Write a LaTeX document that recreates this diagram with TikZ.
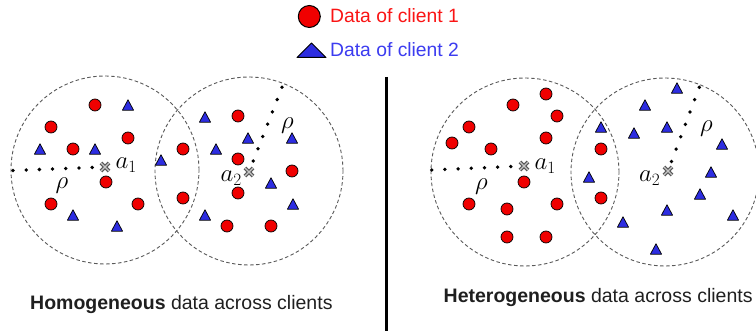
\documentclass[tikz,border=0pt]{standalone}
\usepackage{fontspec}
\setmainfont{Liberation Sans}
\usetikzlibrary{shapes.misc}
\definecolor{ptred}{RGB}{240,0,0}
\definecolor{ptblue}{RGB}{45,45,225}
\definecolor{txtblue}{RGB}{60,60,240}
\definecolor{txtred}{RGB}{250,20,20}
\tikzset{
  rpt/.style={circle,draw=black,line width=0.7pt,fill=ptred,minimum size=12pt,inner sep=0pt},
  tri/.pic={\filldraw[fill=ptblue,draw=black,line width=0.7pt,line join=round] (-5.6pt,-5.2pt) -- (5.6pt,-5.2pt) -- (0pt,5.2pt) -- cycle;},
  client/.style={circle,draw=black!65,dash pattern=on 3.5pt off 2.5pt,line width=0.9pt,minimum size=188pt,inner sep=0pt},
  ctr/.style={cross out,draw=gray!70!black,line width=1.2pt,double=gray!45,double distance=1.3pt,minimum size=7pt,inner sep=0pt},
  radius line/.style={line width=3.8pt,line cap=round,dash pattern=on 0pt off 13.2pt},
  lbl/.style={anchor=base west,inner sep=0pt,font=\fontsize{24}{28}\selectfont},
  captxt/.style={anchor=base west,inner sep=0pt,font=\fontsize{19.5}{23}\selectfont,text=black!88},
  legtxt/.style={anchor=base west,inner sep=0pt,font=\fontsize{19.3}{23}\selectfont},
}
\begin{document}
\begin{tikzpicture}[x=1pt,y=-1pt]
\fill[white] (0,0) rectangle (756,331);
\useasboundingbox (0,0) rectangle (756,331);

% legend
\node[rpt,minimum size=22pt,line width=1pt] (legc) at (309.3,16.5) {};
\node[legtxt,text=txtred] (leg1) at (330,23) {Data of client 1};
\filldraw[fill=ptblue,draw=black,line width=1pt,line join=round] (297,57.5) -- (326,57.5) -- (311.5,43) -- cycle;
\node[legtxt,text=txtblue] (leg2) at (330,57) {Data of client 2};

% separator
\coordinate (sepT) at (386,77);
\coordinate (sepB) at (386,331);
\draw[line width=3pt] (sepT) -- (sepB);

% ---------- left panel ----------
\node[client] (L1) at (105,170) {};
\node[client] (L2) at (249,171) {};
\foreach \p [count=\i] in {(95,105),(51,127),(128,138),(73,149),(106,182),(51,204),(138,204),(183,149),(183,198),(238,116),(238,159),(292,171),(238,193),(227,226),(271,226)}
  \node[rpt] (lr\i) at \p {};
\foreach \p [count=\i] in {(128,105),(40,149),(95,149),(161,160),(73,215),(117,226),(205,117),(248,138),(292,138),(216,149),(271,183),(293,204),(205,215)}
  \pic (lb\i) at \p {tri};
\node[ctr] (La1) at (105,167) {};
\node[ctr] (La2) at (249,172) {};
\coordinate (Le1) at (13,170.5);
\coordinate (Le2) at (282,87.3);
\draw[radius line] (Le1) -- (La1);
\draw[radius line] (Le2) -- (La2);
\node[lbl] (Lta1) at (115.5,168.3) {$a_1$};
\node[lbl] (Lta2) at (220.5,181.7) {$a_2$};
\node[lbl] (Lrho1) at (55.5,188.3) {$\rho$};
\node[lbl] (Lrho2) at (281,128.3) {$\rho$};
\node[captxt] (Lcap) at (30,309.3) {\textbf{Homogeneous} data across clients};

% ---------- right panel ----------
\node[client] (R1) at (525,172) {};
\node[client] (R2) at (665,172) {};
\foreach \p [count=\i] in {(546,94),(513,105),(557,116),(469,127),(546,138),(452,143),(491,149),(524,182),(469,204),(557,204),(507,209),(507,237),(546,237),(601,149),(601,198)}
  \node[rpt] (rr\i) at \p {};
\foreach \p [count=\i] in {(601,127),(589,177),(677,88),(645,105),(634,133),(667,127),(722,144),(711,172),(700,194),(667,210),(623,222),(733,215),(656,249)}
  \pic (rb\i) at \p {tri};
\node[ctr] (Ra1) at (524,166) {};
\node[ctr] (Ra2) at (668,171) {};
\coordinate (Re1) at (431.7,170);
\coordinate (Re2) at (699.3,87.3);
\draw[radius line] (Re1) -- (Ra1);
\draw[radius line] (Re2) -- (Ra2);
\node[lbl] (Rta1) at (534.5,169.3) {$a_1$};
\node[lbl] (Rta2) at (639,181.7) {$a_2$};
\node[lbl] (Rrho1) at (475,189.5) {$\rho$};
\node[lbl] (Rrho2) at (700,131.5) {$\rho$};
\node[captxt] (Rcap) at (443.5,303) {\textbf{Heterogeneous} data across clients};
\end{tikzpicture}
\end{document}
